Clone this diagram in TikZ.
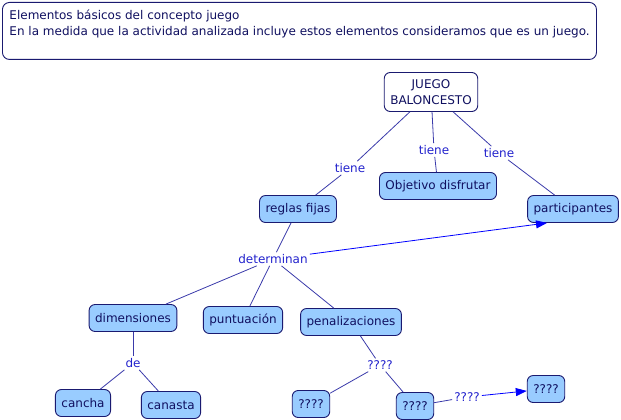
\documentclass[tikz,border=0pt]{standalone}
\usepackage{fontspec}
\setmainfont{DejaVu Sans}
\usetikzlibrary{arrows.meta}

\definecolor{cfill}{HTML}{99CCFF}
\definecolor{cdraw}{HTML}{1A1A70}
\definecolor{ctext}{HTML}{101060}
\definecolor{clink}{HTML}{2222CC}
\definecolor{cline}{HTML}{3A3AAA}

\begin{document}
\begin{tikzpicture}[x=1pt, y=-1pt,
    c/.style={rectangle, draw=cdraw, line width=0.9pt, rounded corners=6pt, fill=cfill, text=ctext, inner xsep=6pt, minimum height=27pt, font=\fontsize{12}{15.5}\selectfont},
    w/.style={c, fill=white, align=center, minimum height=39pt},
    lbl/.style={text=clink, inner sep=2pt, font=\fontsize{12}{14}\selectfont},
    line/.style={draw=cline, line width=0.8pt},
    arrow/.style={line, -{Triangle[length=11pt,width=8pt]}, blue}]
    \useasboundingbox (0,0) rectangle (621,420);
    % heading
    \node[rectangle, draw=cdraw, line width=0.9pt, rounded corners=7pt, fill=white, text=ctext, anchor=north west, inner sep=0pt, font=\fontsize{12}{16}\selectfont] (head) at (2,2)
        {\parbox[c][57pt][t]{594pt}{\hspace*{7pt}\parbox[t]{585pt}{\vspace*{7pt}Elementos básicos del concepto juego\\En la medida que la actividad analizada incluye estos elementos consideramos que es un juego.}}};
    % concepts
    \node[w] (jb) at (431,92) {JUEGO\\BALONCESTO};
    \node[c] (obj) at (438,186) {Objetivo disfrutar};
    \node[c] (rf) at (298,209) {reglas fijas};
    \node[c] (part) at (573,209) {participantes};
    \node[c] (dim) at (133,318) {dimensiones};
    \node[c] (pun) at (243,320) {puntuación};
    \node[c] (pen) at (351,322) {penalizaciones};
    \node[c] (cancha) at (83,403) {cancha};
    \node[c] (canasta) at (171,405) {canasta};
    \node[c] (qa) at (311,404) {????};
    \node[c] (qb) at (415,406) {????};
    \node[c] (qc) at (546,389) {????};
    % linking phrases
    \node[lbl] (t1) at (350,168) {tiene};
    \node[lbl] (t2) at (434,150) {tiene};
    \node[lbl] (t3) at (499,153) {tiene};
    \node[lbl] (det) at (273,259) {determinan};
    \node[lbl] (de) at (133,363) {de};
    \node[lbl] (q1) at (380,365) {????};
    \node[lbl] (q2) at (467,397) {????};
    % connectors
    \draw[line] (jb) -- (t1) -- (rf);
    \draw[line] (jb) -- (t2) -- (obj);
    \draw[line] (jb) -- (t3) -- (part);
    \draw[line] (rf) -- (det);
    \draw[line] (det) -- (dim); \draw[line] (det) -- (pun); \draw[line] (det) -- (pen);
    \draw[arrow] (det) -- ([xshift=-26pt]part.south);
    \draw[line] (dim) -- (de); \draw[line] (de) -- (cancha); \draw[line] (de) -- (canasta);
    \draw[line] (pen) -- (q1); \draw[line] (q1) -- (qa); \draw[line] (q1) -- (qb);
    \draw[line] (qb) -- (q2);
    \draw[arrow] (q2) -- (qc);
\end{tikzpicture}
\end{document}
